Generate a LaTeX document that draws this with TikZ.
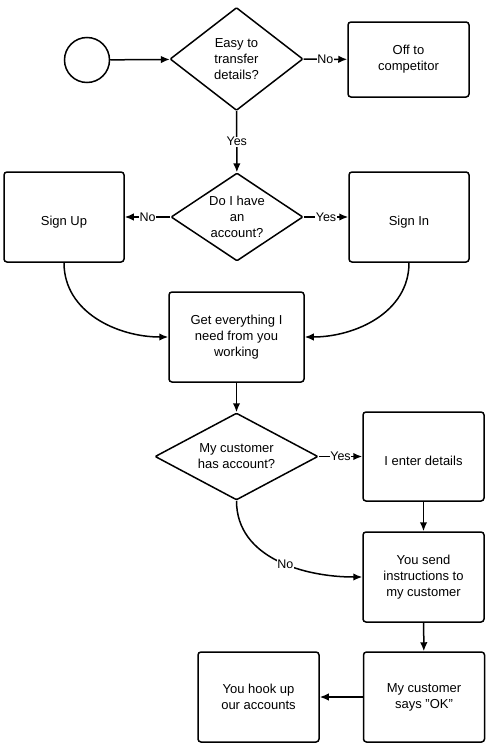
\documentclass[tikz,border=0pt]{standalone}
\usepackage{fontspec}
\setmainfont{Liberation Sans}
\usetikzlibrary{shapes.geometric,arrows.meta}
\tikzset{
    box/.style={draw, line width=1.5pt, rounded corners=3pt, minimum width=121pt, minimum height=90pt, align=center, inner sep=0pt, execute at begin node={\rule{0pt}{19pt}}},
    decision/.style={draw, diamond, line width=1.5pt, rounded corners=1pt, align=center, inner sep=0pt, execute at begin node={\rule{0pt}{19pt}}},
    flow/.style={-{Latex[length=9pt,width=7.5pt]}, line width=1.5pt},
    lbl/.style={fill=white, inner sep=0.5pt, font=\fontsize{12.5}{15}\selectfont}
}
\begin{document}
\begin{tikzpicture}[x=1pt, y=1pt, font=\fontsize{13}{16}\selectfont]
        \useasboundingbox (0, 0) rectangle (488, -755);
        \node[draw, circle, line width=1.5pt, minimum size=45pt, inner sep=0pt] (start) at (87, -60) {};
        \node[decision, aspect=1.3, minimum width=133pt, minimum height=103pt] (easy) at (236.5, -59) {Easy to\\transfer\\details?};
        \node[box, minimum height=75pt] (off) at (408.5, -59.5) {Off to\\competitor};
        \node[decision, aspect=1.5, minimum width=132pt, minimum height=88pt, execute at begin node={\rule{0pt}{15pt}}] (account) at (237, -217) {Do I have\\an\\account?};
        \node[box, minimum width=120pt] (signup) at (64, -217) {Sign Up};
        \node[box, minimum width=120pt] (signin) at (409, -217) {Sign In};
        \node[box, minimum width=135pt] (getall) at (236.5, -337) {Get everything I\\need from you\\working};
        \node[decision, aspect=1.87, minimum width=163pt, minimum height=87pt] (hasacc) at (236.5, -456.5) {My customer\\has account?};
        \node[box, minimum height=89pt] (enter) at (423.5, -456.5) {I enter details};
        \node[box] (send) at (423.5, -577) {You send\\instructions to\\my customer};
        \node[box] (okay) at (424, -697) {My customer\\says "OK"};
        \node[box] (hookup) at (258.5, -697) {You hook up\\our accounts};
        \draw[flow] (start) -- (easy);
        \draw[flow] (easy) -- node[lbl] {No} (off);
        \draw[flow] (easy) -- node[lbl] {Yes} (account);
        \draw[flow] (account) -- node[lbl] {No} (signup);
        \draw[flow] (account) -- node[lbl] {Yes} (signin);
        \draw[flow] (signup.south) to[out=-90, in=180] (getall.west);
        \draw[flow] (signin.south) to[out=-90, in=0] (getall.east);
        \draw[flow] (getall) -- (hasacc);
        \draw[flow] (hasacc) -- node[lbl] {Yes} (enter);
        \draw[flow] (hasacc.south) to[out=-90, in=180] node[lbl, pos=0.55] {No} (send.west);
        \draw[flow] (enter) -- (send);
        \draw[flow] (send) -- (okay);
        \draw[flow] (okay) -- (hookup);
    \end{tikzpicture}
\end{document}
